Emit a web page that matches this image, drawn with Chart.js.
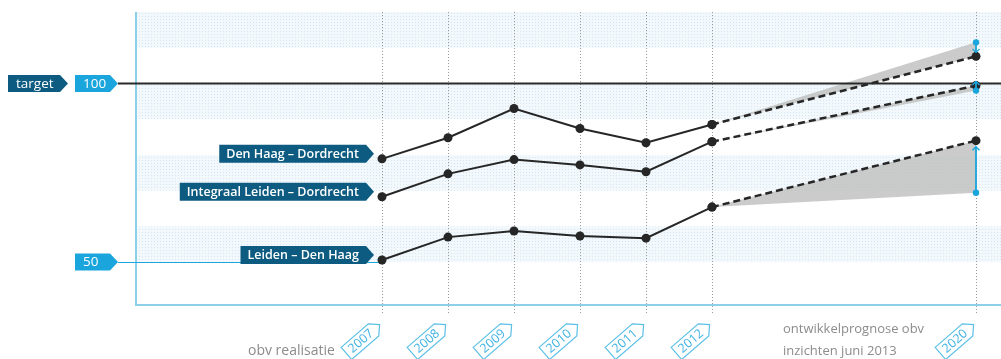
<!DOCTYPE html>
<html>
<head>
<meta charset="utf-8">
<script src="https://cdn.jsdelivr.net/npm/chart.js@4.4.0/dist/chart.umd.min.js"></script>
<style>
  html, body { margin: 0; padding: 0; background: #fff; }
  canvas { display: block; }
</style>
</head>
<body>
<canvas id="chart" width="1001" height="359"></canvas>
<script>
// categorie-as: 2007-2012 realisatie, 2020 prognose (lege plekken ertussen)
const categories = ['2007', '2008', '2009', '2010', '2011', '2012', '', '', '', '2020'];

// realisatie
const denHaagDordrecht = [78.9, 84.8, 93.0, 87.4, 83.4, 88.5, null, null, null, null];
const integraalLeidenDordrecht = [68.3, 74.7, 78.7, 77.2, 75.3, 83.7, null, null, null, null];
const leidenDenHaag = [50.6, 57.0, 58.7, 57.3, 56.7, 65.4, null, null, null, null];

// prognose 2012 -> 2020
const denHaagDordrechtPrognose = [null, null, null, null, null, 88.5, null, null, null, 107.6];
const integraalPrognose = [null, null, null, null, null, 83.7, null, null, null, 99.4];
const leidenDenHaagPrognose = [null, null, null, null, null, 65.4, null, null, null, 84.0];

// bandbreedte prognose
const denHaagDordrechtBand = [null, null, null, null, null, 88.5, null, null, null, 111.5];
const integraalBand = [null, null, null, null, null, 83.7, null, null, null, 98.0];
const leidenDenHaagBand = [null, null, null, null, null, 65.4, null, null, null, 69.4];

const seriesLabels = ['Den Haag – Dordrecht', 'Integraal Leiden – Dordrecht', 'Leiden – Den Haag'];
const targetValue = 100;
const lowValue = 50;

const DARK = '#0d5b80';
const CYAN = '#1aa5dd';
const LINE = '#262626';
const FRAME_LEFT = 136;

function makeDots() {
    const c = document.createElement('canvas');
    c.width = 3; c.height = 3;
    const g = c.getContext('2d');
    g.fillStyle = '#f2f8fb';
    g.fillRect(0, 0, 3, 3);
    g.fillStyle = '#d3e8f1';
    g.fillRect(1, 1, 1, 1);
    return c;
}

function arrowBox(ctx, x, y, w, h, color) {
    ctx.beginPath();
    ctx.moveTo(x, y - h / 2);
    ctx.lineTo(x + w - 8, y - h / 2);
    ctx.lineTo(x + w, y);
    ctx.lineTo(x + w - 8, y + h / 2);
    ctx.lineTo(x, y + h / 2);
    ctx.closePath();
    ctx.fillStyle = color;
    ctx.fill();
}

const decor = {
    id: 'decor',
    beforeDatasetsDraw(chart) {
        const ctx = chart.ctx;
        const y = chart.scales.y;
        const x = chart.scales.x;
        const W = chart.width;
        const area = chart.chartArea;
        ctx.save();
        const pat = ctx.createPattern(makeDots(), 'repeat');
        ctx.fillStyle = pat;
        [[120, 110], [100, 90], [80, 70], [60, 50]].forEach(b => {
            const t = y.getPixelForValue(b[0]);
            const bt = y.getPixelForValue(b[1]);
            ctx.fillRect(FRAME_LEFT, t, W - FRAME_LEFT, bt - t);
        });
        // verticale stippellijnen
        ctx.strokeStyle = '#9a9a9a';
        ctx.lineWidth = 1;
        ctx.setLineDash([1, 2]);
        categories.forEach((c, i) => {
            if (!c) return;
            const px = Math.round(x.getPixelForValue(i)) + 0.5;
            ctx.beginPath();
            ctx.moveTo(px, area.top);
            ctx.lineTo(px, area.bottom + 8);
            ctx.stroke();
        });
        ctx.setLineDash([]);
        // kader
        ctx.strokeStyle = '#8ccfe9';
        ctx.lineWidth = 2;
        ctx.beginPath();
        ctx.moveTo(FRAME_LEFT, area.top);
        ctx.lineTo(FRAME_LEFT, area.bottom);
        ctx.lineTo(W, area.bottom);
        ctx.stroke();
        // lijn 50
        const y50 = Math.round(y.getPixelForValue(lowValue)) + 0.5;
        ctx.strokeStyle = CYAN;
        ctx.lineWidth = 1.2;
        ctx.beginPath();
        ctx.moveTo(118, y50);
        ctx.lineTo(x.getPixelForValue(0), y50);
        ctx.stroke();
        ctx.restore();
    },
    afterDatasetsDraw(chart) {
        const ctx = chart.ctx;
        const y = chart.scales.y;
        const x = chart.scales.x;
        const W = chart.width;
        ctx.save();
        // target lijn
        const y100 = y.getPixelForValue(targetValue);
        ctx.strokeStyle = '#2a2a2a';
        ctx.lineWidth = 2;
        ctx.beginPath();
        ctx.moveTo(118, y100);
        ctx.lineTo(W, y100);
        ctx.stroke();

        // markeringen bandbreedte 2020
        const x20 = x.getPixelForValue(9);
        ctx.fillStyle = CYAN;
        ctx.strokeStyle = CYAN;
        const marks = [
            [denHaagDordrechtBand[9], denHaagDordrechtPrognose[9], 4],
            [integraalBand[9], integraalPrognose[9], 3],
            [leidenDenHaagBand[9], leidenDenHaagPrognose[9], 0]
        ];
        marks.forEach(m => {
            const py = y.getPixelForValue(m[0]);
            const ty = y.getPixelForValue(m[1]);
            const dir = ty > py ? 1 : -1;
            const end = m[2] ? py + dir * (m[2] + 6) : ty + 6;
            ctx.lineWidth = 1.8;
            ctx.beginPath();
            ctx.moveTo(x20, py);
            ctx.lineTo(x20, end);
            ctx.stroke();
            ctx.lineWidth = 1.4;
            ctx.beginPath();
            ctx.moveTo(x20 - 3.5, end - dir * 3.5);
            ctx.lineTo(x20, end);
            ctx.lineTo(x20 + 3.5, end - dir * 3.5);
            ctx.stroke();
            ctx.beginPath();
            ctx.arc(x20, py, 3.2, 0, Math.PI * 2);
            ctx.fill();
        });

        // linkse labels
        ctx.textBaseline = 'middle';
        ctx.font = '13.5px "Open Sans", sans-serif';
        arrowBox(ctx, 8, y100, 60, 17, DARK);
        ctx.fillStyle = '#fff';
        ctx.fillText('target', 16, y100 + 0.5);
        arrowBox(ctx, 75, y100, 43, 17, CYAN);
        ctx.fillStyle = '#fff';
        ctx.fillText('100', 83, y100 + 0.5);
        const y50 = y.getPixelForValue(lowValue);
        arrowBox(ctx, 75, y50, 43, 17, CYAN);
        ctx.fillStyle = '#fff';
        ctx.fillText('50', 83, y50 + 0.5);

        // reekslabels
        ctx.font = '600 12.5px "Open Sans", sans-serif';
        const firsts = [denHaagDordrecht[0], integraalLeidenDordrecht[0], leidenDenHaag[0]];
        const x07 = x.getPixelForValue(0);
        seriesLabels.forEach((lab, i) => {
            const py = y.getPixelForValue(firsts[i]) - 5;
            const tw = ctx.measureText(lab).width;
            const right = x07 - 8;
            const w = tw + 22;
            arrowBox(ctx, right - w, py, w, 18, DARK);
            ctx.fillStyle = '#fff';
            ctx.fillText(lab, right - w + 7, py + 0.5);
        });

        // jaar-labels
        ctx.font = '12.5px "Open Sans", sans-serif';
        ctx.textAlign = 'center';
        categories.forEach((c, i) => {
            if (!c) return;
            const px = x.getPixelForValue(i);
            ctx.save();
            ctx.translate(px - 19, 339);
            ctx.rotate(-41 * Math.PI / 180);
            ctx.beginPath();
            ctx.moveTo(-22, -8);
            ctx.lineTo(14, -8);
            ctx.lineTo(22, 0);
            ctx.lineTo(14, 8);
            ctx.lineTo(-22, 8);
            ctx.closePath();
            ctx.strokeStyle = '#5cc0e8';
            ctx.lineWidth = 1.2;
            ctx.stroke();
            ctx.fillStyle = '#3fb2e2';
            ctx.fillText(c, -3, 0.5);
            ctx.restore();
        });

        ctx.textAlign = 'left';
        ctx.textBaseline = 'alphabetic';
        ctx.fillStyle = '#8c8c8c';
        ctx.font = '14px "Open Sans", sans-serif';
        ctx.fillText('obv realisatie', 248, 355);
        ctx.font = '13px "Open Sans", sans-serif';
        ctx.fillText('ontwikkelprognose obv', 783, 333);
        ctx.fillText('inzichten juni 2013', 783, 355);
        ctx.restore();
    }
};

function realisatie(data) {
    return {
        data: data,
        borderColor: LINE,
        borderWidth: 2,
        pointRadius: 4.5,
        pointBackgroundColor: LINE,
        pointBorderWidth: 0,
        fill: false,
        clip: false
    };
}
function prognose(data) {
    return {
        data: data,
        borderColor: LINE,
        borderWidth: 2.5,
        borderDash: [7, 4],
        pointRadius: 4.5,
        pointBackgroundColor: LINE,
        pointBorderWidth: 0,
        spanGaps: true,
        fill: false,
        clip: false
    };
}
function band(data, target) {
    return {
        data: data,
        borderWidth: 0,
        borderColor: 'rgba(0,0,0,0)',
        pointRadius: 0,
        spanGaps: true,
        backgroundColor: 'rgba(190,190,190,0.8)',
        fill: { target: target },
        clip: false
    };
}

new Chart(document.getElementById('chart').getContext('2d'), {
    type: 'line',
    data: {
        labels: categories,
        datasets: [
            prognose(denHaagDordrechtPrognose),
            prognose(integraalPrognose),
            prognose(leidenDenHaagPrognose),
            realisatie(denHaagDordrecht),
            realisatie(integraalLeidenDordrecht),
            realisatie(leidenDenHaag),
            band(denHaagDordrechtBand, 0),
            band(integraalBand, 1),
            band(leidenDenHaagBand, 2)
        ]
    },
    options: {
        responsive: false,
        animation: false,
        layout: { padding: { left: 382, right: 25, top: 12, bottom: 54 } },
        plugins: { legend: { display: false }, tooltip: { enabled: false } },
        scales: {
            x: { display: false },
            y: { display: false, min: 38, max: 120 }
        }
    },
    plugins: [decor]
});
</script>
</body>
</html>
